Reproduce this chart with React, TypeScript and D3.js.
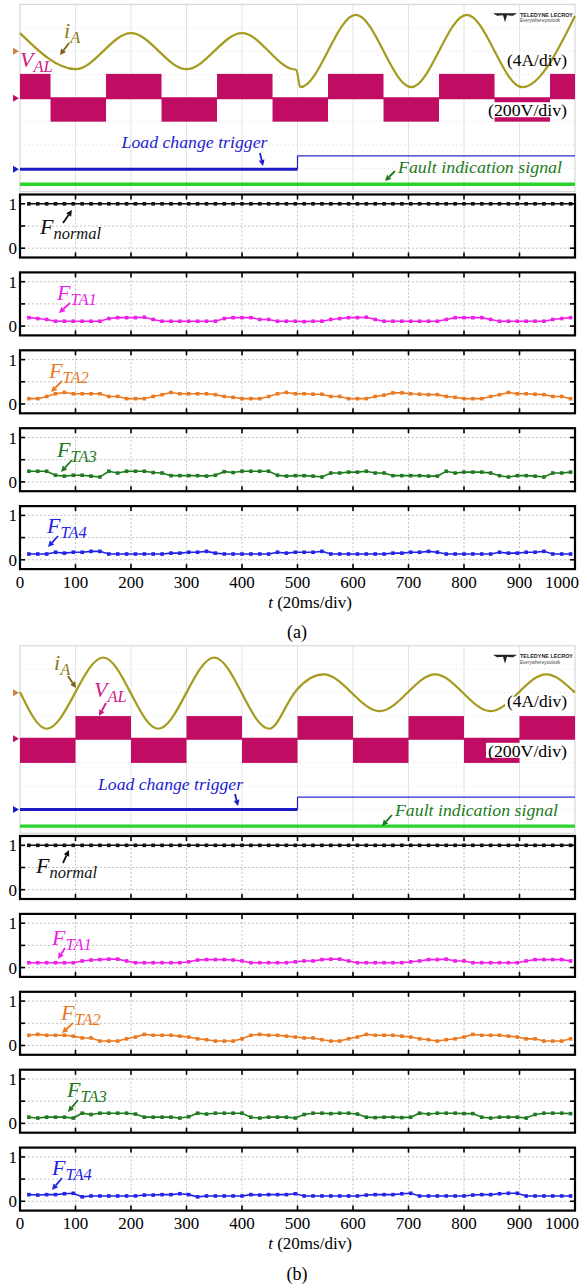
import React from 'react';
import * as d3 from 'd3';

// ---------- data ----------
const T_SAMPLES = [16,32,48,64,80,96,112,128,144,160,176,192,208,224,240,256,272,288,304,320,336,352,368,384,400,416,432,448,464,480,496,512,528,544,560,576,592,608,624,640,656,672,688,704,720,736,752,768,784,800,816,832,848,864,880,896,912,928,944,960,976,992];
const X_TICKS = [0,100,200,300,400,500,600,700,800,900,1000];
const Y_GRID = [0, 0.5, 1];
const Y_TICK_LABELS = [0, 1];

const F_NORMAL = [1,1,1,1,1,1,1,1,1,1,1,1,1,1,1,1,1,1,1,1,1,1,1,1,1,1,1,1,1,1,1,1,1,1,1,1,1,1,1,1,1,1,1,1,1,1,1,1,1,1,1,1,1,1,1,1,1,1,1,1,1,1];

const FTA1_A = [0.19,0.17,0.15,0.11,0.11,0.11,0.11,0.11,0.11,0.17,0.19,0.19,0.19,0.2,0.15,0.11,0.11,0.11,0.11,0.11,0.11,0.11,0.17,0.19,0.19,0.19,0.15,0.15,0.11,0.11,0.11,
  0.1,0.11,0.11,0.15,0.17,0.19,0.19,0.2,0.15,0.11,0.11,0.11,0.11,0.11,0.11,0.11,0.15,0.19,0.19,0.19,0.19,0.15,0.11,0.11,0.11,0.11,0.11,0.11,0.15,0.17,0.19];
const FTA2_A = [0.12,0.12,0.17,0.23,0.26,0.23,0.23,0.23,0.23,0.17,0.17,0.12,0.12,0.12,0.17,0.21,0.26,0.23,0.23,0.23,0.23,0.21,0.17,0.15,0.12,0.12,0.12,0.17,0.23,0.26,0.23,
  0.23,0.22,0.22,0.17,0.17,0.12,0.12,0.12,0.17,0.2,0.25,0.25,0.23,0.22,0.21,0.21,0.17,0.15,0.12,0.12,0.12,0.17,0.21,0.26,0.23,0.23,0.22,0.21,0.17,0.17,0.12];
const FTA3_A = [0.24,0.24,0.24,0.15,0.13,0.15,0.15,0.13,0.11,0.24,0.2,0.24,0.24,0.24,0.21,0.2,0.14,0.14,0.14,0.14,0.13,0.15,0.23,0.21,0.24,0.24,0.24,0.24,0.15,0.13,0.14,
  0.14,0.13,0.11,0.2,0.2,0.22,0.22,0.24,0.2,0.2,0.14,0.14,0.14,0.14,0.13,0.13,0.24,0.2,0.22,0.22,0.22,0.2,0.14,0.11,0.14,0.14,0.13,0.11,0.2,0.2,0.22];
const FTA4_A = [0.13,0.13,0.13,0.17,0.15,0.17,0.17,0.19,0.19,0.13,0.13,0.13,0.13,0.13,0.13,0.13,0.15,0.15,0.17,0.17,0.19,0.15,0.13,0.13,0.13,0.13,0.13,0.13,0.17,0.15,0.17,
  0.17,0.17,0.19,0.13,0.13,0.13,0.13,0.13,0.13,0.13,0.15,0.15,0.17,0.17,0.19,0.17,0.13,0.13,0.13,0.13,0.13,0.13,0.17,0.15,0.15,0.17,0.17,0.19,0.13,0.13,0.13];

const FTA1_B = [0.11,0.11,0.11,0.11,0.11,0.11,0.15,0.17,0.18,0.19,0.19,0.15,0.11,0.11,0.11,0.11,0.11,0.11,0.13,0.17,0.18,0.18,0.18,0.17,0.15,0.11,0.11,0.11,0.11,0.11,0.13,
  0.15,0.15,0.18,0.19,0.19,0.15,0.11,0.11,0.11,0.11,0.11,0.11,0.13,0.15,0.18,0.18,0.19,0.15,0.15,0.11,0.11,0.11,0.11,0.11,0.11,0.15,0.18,0.18,0.18,0.18,0.15];
const FTA2_B = [0.23,0.25,0.23,0.23,0.23,0.21,0.17,0.17,0.1,0.1,0.1,0.15,0.19,0.25,0.23,0.23,0.23,0.21,0.19,0.15,0.13,0.1,0.1,0.1,0.15,0.23,0.25,0.23,0.23,0.21,0.19,
  0.17,0.17,0.13,0.1,0.1,0.15,0.19,0.25,0.23,0.23,0.23,0.21,0.19,0.15,0.13,0.1,0.13,0.15,0.19,0.25,0.23,0.23,0.23,0.21,0.19,0.15,0.15,0.1,0.1,0.1,0.15];
const FTA3_B = [0.14,0.12,0.14,0.14,0.14,0.12,0.23,0.2,0.23,0.23,0.23,0.23,0.21,0.14,0.14,0.14,0.14,0.12,0.15,0.23,0.21,0.23,0.23,0.23,0.23,0.14,0.12,0.14,0.14,0.14,0.12,
  0.2,0.23,0.23,0.22,0.23,0.23,0.21,0.14,0.13,0.14,0.14,0.13,0.14,0.23,0.21,0.23,0.23,0.23,0.22,0.22,0.14,0.12,0.14,0.14,0.14,0.12,0.2,0.23,0.23,0.23,0.22];
const FTA4_B = [0.15,0.14,0.15,0.15,0.17,0.18,0.1,0.12,0.12,0.12,0.12,0.12,0.12,0.14,0.14,0.15,0.15,0.17,0.15,0.1,0.12,0.12,0.12,0.12,0.12,0.15,0.14,0.15,0.15,0.15,0.17,
  0.12,0.12,0.12,0.12,0.12,0.12,0.12,0.14,0.15,0.15,0.15,0.17,0.18,0.12,0.12,0.12,0.12,0.12,0.12,0.14,0.15,0.15,0.17,0.18,0.18,0.12,0.12,0.12,0.12,0.12,0.12];

// oscilloscope traces (values in screen divisions, 0 = bottom, 8 = top)
const IA_A_T = [0,100,200,300,400,490,498,505,605,705,805,905,1000];
const IA_A_V = [6.77,5.23,6.77,5.23,6.77,5.24,5.2,4.46,7.55,4.46,7.55,4.46,7.5];
const IA_B_T = [0,48,150,249,350,449,490,498,547,648,748,848,948,1000];
const IA_B_V = [6.03,4.46,7.5,4.46,7.5,4.46,5.83,6.1,6.78,5.21,6.78,5.21,6.78,6.0];

const VAL_A_EDGES = [0,55,155,255,355,455,555,655,755,855,955,1000];
const VAL_A_STATES = [1,-1,1,-1,1,-1,1,-1,1,-1,1];
const VAL_A_LEVELS = [2.99, 3.99, 5.03];
const VAL_B_EDGES = [0,100,200,300,400,500,600,700,800,900,1000];
const VAL_B_STATES = [-1,1,-1,1,-1,1,-1,1,-1,1];
const VAL_B_LEVELS = [3.0, 4.03, 5.0];

const TRIG_A = [0.96, 1.53];
const TRIG_B = [1.01, 1.54];
const TRIG_TIME = 500;
const FAULT_A = 0.32;
const FAULT_B = 0.3;
const IA_MARK = 6.0;

// ---------- styling ----------
const SERIF = '"Liberation Serif","Times New Roman",serif';
const X0 = 20, X1 = 575;
const xScale = d3.scaleLinear().domain([0, 1000]).range([X0, X1]);

function Arrow({ x1, y1, x2, y2, color }: any) {
  const a = Math.atan2(y2 - y1, x2 - x1);
  const L = 6, w = 3;
  const bx = x2 - L * Math.cos(a), by = y2 - L * Math.sin(a);
  const pts = [[x2, y2], [bx - w * Math.sin(a), by + w * Math.cos(a)], [bx + w * Math.sin(a), by - w * Math.cos(a)]];
  return (
    <g>
      <line x1={x1} y1={y1} x2={bx} y2={by} stroke={color} strokeWidth={1.8} />
      <polygon points={pts.map(p => p.join(',')).join(' ')} fill={color} />
    </g>
  );
}

function SubLabel({ x, y, main, sub, color, size = 22, subSize = 16.5, dy = 5 }: any) {
  return (
    <text x={x} y={y} fill={color} fontFamily={SERIF} fontStyle="italic" fontSize={size}>
      {main}
      <tspan dy={dy} fontSize={subSize}>{sub}</tspan>
    </text>
  );
}

function Panel({ top, values, color }: any) {
  const h = 63;
  const y = d3.scaleLinear().domain([-0.21, 1.21]).range([top + h, top]);
  const line = d3.line<number>().x((_, i) => xScale(T_SAMPLES[i])).y(v => y(v));
  return (
    <g>
      {X_TICKS.slice(1, -1).map(t => (
        <line key={'gv' + t} x1={xScale(t)} x2={xScale(t)} y1={top} y2={top + h} stroke="#b5b5b5" strokeWidth={0.8} strokeDasharray="2 2" />
      ))}
      {Y_GRID.map(v => (
        <line key={'gh' + v} x1={X0} x2={X1} y1={y(v)} y2={y(v)} stroke="#b5b5b5" strokeWidth={0.8} strokeDasharray="2 2" />
      ))}
      <path d={line(values) || ''} fill="none" stroke={color} strokeWidth={1.6} />
      {values.map((v: number, i: number) => (
        <rect key={i} x={xScale(T_SAMPLES[i]) - 1.8} y={y(v) - 1.8} width={3.6} height={3.6} fill={color} />
      ))}
      {X_TICKS.slice(1, -1).map(t => (
        <g key={'t' + t}>
          <line x1={xScale(t)} x2={xScale(t)} y1={top} y2={top + 5} stroke="#000" strokeWidth={1.6} />
          <line x1={xScale(t)} x2={xScale(t)} y1={top + h} y2={top + h - 5} stroke="#000" strokeWidth={1.6} />
        </g>
      ))}
      {Y_GRID.map(v => (
        <g key={'yt' + v}>
          <line x1={X0} x2={X0 + 5} y1={y(v)} y2={y(v)} stroke="#000" strokeWidth={1.6} />
          <line x1={X1} x2={X1 - 5} y1={y(v)} y2={y(v)} stroke="#000" strokeWidth={1.6} />
        </g>
      ))}
      {Y_TICK_LABELS.map(v => (
        <text key={'yl' + v} x={17} y={y(v) + 6} textAnchor="end" fontFamily={SERIF} fontSize={17}>{v}</text>
      ))}
      <rect x={X0} y={top} width={X1 - X0} height={h} fill="none" stroke="#000" strokeWidth={2.2} />
    </g>
  );
}

function Scope({ top, bottom, iaT, iaV, edges, states, levels, trig, fault, bgFourA }: any) {
  const y = d3.scaleLinear().domain([0, 8]).range([bottom, top]);
  const ia = d3.line<number>().x((_, i) => xScale(iaT[i])).y(v => y(v)).curve(d3.curveMonotoneX);
  const divs = [1, 2, 3, 4, 5, 6, 7];
  const [lo, mid, hi] = levels;
  return (
    <g>
      <rect x={X0} y={top} width={X1 - X0} height={bottom - top} fill="#fff" stroke="#cfcfcf" strokeWidth={1} />
      {X_TICKS.slice(1, -1).map(t => (
        <line key={'sv' + t} x1={xScale(t)} x2={xScale(t)} y1={top} y2={bottom} stroke="#dcdcdc" strokeWidth={0.8} />
      ))}
      {divs.map(d => (
        <line key={'sh' + d} x1={X0} x2={X1} y1={y(d)} y2={y(d)} stroke="#d6d6d6" strokeWidth={0.8} strokeDasharray={d === 4 ? undefined : '1 3'} />
      ))}
      {/* V_AL */}
      {states.map((s: number, i: number) => {
        const xa = xScale(edges[i]), xb = xScale(edges[i + 1]);
        const ya = s > 0 ? y(hi) : y(mid), yb = s > 0 ? y(mid) : y(lo);
        return <rect key={'v' + i} x={xa} y={ya} width={xb - xa} height={yb - ya} fill="#c00d63" />;
      })}
      <line x1={X0} x2={X1} y1={y(mid)} y2={y(mid)} stroke="#c00d63" strokeWidth={2} />
      {/* i_A */}
      <path d={ia(iaV) || ''} fill="none" stroke="#a59b1f" strokeWidth={2.2} />
      {/* trigger */}
      <line x1={X0} x2={xScale(TRIG_TIME)} y1={y(trig[0])} y2={y(trig[0])} stroke="#1c1cc4" strokeWidth={3} />
      <line x1={xScale(TRIG_TIME)} x2={xScale(TRIG_TIME)} y1={y(trig[0])} y2={y(trig[1])} stroke="#1c1cc4" strokeWidth={1.2} />
      <line x1={xScale(TRIG_TIME)} x2={X1} y1={y(trig[1])} y2={y(trig[1])} stroke="#2a2ad8" strokeWidth={1.2} />
      {/* fault */}
      <line x1={X0} x2={X1} y1={y(fault)} y2={y(fault)} stroke="#2bd42b" strokeWidth={3.4} />
      {/* markers */}
      <polygon points={`13,${y(IA_MARK) - 3.5} 19,${y(IA_MARK)} 13,${y(IA_MARK) + 3.5}`} fill="#c8824a" />
      <polygon points={`13,${y(mid) - 3.5} 19,${y(mid)} 13,${y(mid) + 3.5}`} fill="#c00d63" />
      <polygon points={`13,${y(trig[0]) - 3.5} 19,${y(trig[0])} 13,${y(trig[0]) + 3.5}`} fill="#1c1cc4" />
      {/* scale labels */}
      {bgFourA && <rect x={505} y={y(6.0) + 4} width={64} height={18} fill="#fff" />}
      <rect x={486} y={y(mid) + 4} width={83} height={15} fill="#fff" />
      {/* logo */}
      <g transform={`translate(493,${top + 6})`}>
        <path d="M0,3 L24,3 L20,5.5 L14,5 L12,12 L10,5 L4,5.5 Z" fill="#222" />
        <text x={27} y={6.5} fontFamily="Liberation Sans, Arial, sans-serif" fontWeight="bold" fontSize={6} fill="#222" textLength={53} lengthAdjust="spacingAndGlyphs">TELEDYNE LECROY</text>
        <text x={27} y={12} fontFamily="Liberation Sans, Arial, sans-serif" fontSize={4.6} fill="#444" textLength={40} lengthAdjust="spacingAndGlyphs">Everywhereyoulook</text>
      </g>
    </g>
  );
}

function Figure({ off, scope, panels, labels, letter }: any) {
  const sTop = 4.3 + off, sBot = 191.7 + off;
  const ys = d3.scaleLinear().domain([0, 8]).range([sBot, sTop]);
  const panelTops = [194.5, 272.4, 350.3, 428.2, 506.1].map(v => v + off);
  return (
    <g>
      <Scope top={sTop} bottom={sBot} {...scope} />
      <text x={537} y={ys(6.0) + 14.5} textAnchor="middle" fontFamily={SERIF} fontSize={17} textLength={60} lengthAdjust="spacingAndGlyphs">(4A/div)</text>
      <text x={527.5} y={ys(scope.levels[1]) + 18} textAnchor="middle" fontFamily={SERIF} fontSize={17} textLength={79} lengthAdjust="spacingAndGlyphs">(200V/div)</text>
      {panels.map((p: any, i: number) => (
        <Panel key={i} top={panelTops[i]} values={p.values} color={p.color} />
      ))}
      {X_TICKS.map((t, i) => (
        <text key={'xl' + t} x={i === X_TICKS.length - 1 ? 562 : xScale(t)} y={587.5 + off} textAnchor="middle" fontFamily={SERIF} fontSize={17}>{t}</text>
      ))}
      <text x={310} y={607.5 + off} textAnchor="middle" fontFamily={SERIF} fontSize={17}>
        <tspan fontStyle="italic">t</tspan> (20ms/div)
      </text>
      <text x={297} y={638 + off} textAnchor="middle" fontFamily={SERIF} fontSize={18}>{letter}</text>
      {labels}
    </g>
  );
}

export default function App() {
  const colors = { normal: '#111', ta1: '#ee1fe6', ta2: '#ea7a22', ta3: '#1f7a1f', ta4: '#2323e8' };
  const labelsA = (
    <g>
      <SubLabel x={64} y={38} main="i" sub="A" color="#8d7a18" />
      <Arrow x1={69} y1={43} x2={60} y2={55} color="#7d5e12" />
      <SubLabel x={20} y={67} main="V" sub="AL" color="#cc1c86" />
      <text x={121.5} y={148.3} fill="#1c1cd0" fontFamily={SERIF} fontStyle="italic" fontSize={17.5} textLength={146} lengthAdjust="spacingAndGlyphs">Load change trigger</text>
      <Arrow x1={260} y1={153} x2={263} y2={166} color="#1c1cd0" />
      <text x={398} y={173} fill="#1d7a1d" fontFamily={SERIF} fontStyle="italic" fontSize={17.5} textLength={164} lengthAdjust="spacingAndGlyphs">Fault indication signal</text>
      <Arrow x1={395} y1={171} x2={385} y2={181} color="#1d7a1d" />
      <SubLabel x={40} y={234} main="F" sub="normal" color="#111" />
      <Arrow x1={63} y1={223} x2={72} y2={210} color="#111" />
      <SubLabel x={57} y={300} main="F" sub="TA1" color={colors.ta1} />
      <Arrow x1={70} y1={303} x2={59} y2={313} color={colors.ta1} />
      <SubLabel x={49} y={378} main="F" sub="TA2" color={colors.ta2} />
      <Arrow x1={62} y1={381} x2={51} y2={392} color={colors.ta2} />
      <SubLabel x={57} y={457} main="F" sub="TA3" color={colors.ta3} />
      <Arrow x1={72} y1={460} x2={61} y2={472} color={colors.ta3} />
      <SubLabel x={47} y={533} main="F" sub="TA4" color={colors.ta4} />
      <Arrow x1={58} y1={536} x2={48} y2={547} color={colors.ta4} />
    </g>
  );
  const labelsB = (
    <g>
      <SubLabel x={54} y={670} main="i" sub="A" color="#8d7a18" />
      <Arrow x1={68} y1={676} x2={76} y2={688} color="#7d5e12" />
      <SubLabel x={94} y={696.7} main="V" sub="AL" color="#cc1c86" />
      <Arrow x1={106} y1={703} x2={99} y2={716} color="#cc1c86" />
      <text x={98} y={790} fill="#1c1cd0" fontFamily={SERIF} fontStyle="italic" fontSize={17.5} textLength={145} lengthAdjust="spacingAndGlyphs">Load change trigger</text>
      <Arrow x1={235} y1={794} x2={238} y2={806} color="#1c1cd0" />
      <text x={395} y={816} fill="#1d7a1d" fontFamily={SERIF} fontStyle="italic" fontSize={17.5} textLength={163} lengthAdjust="spacingAndGlyphs">Fault indication signal</text>
      <Arrow x1={392} y1={815} x2={382} y2={826} color="#1d7a1d" />
      <SubLabel x={36} y={873} main="F" sub="normal" color="#111" />
      <Arrow x1={63} y1={863} x2={69} y2={850} color="#111" />
      <SubLabel x={52} y={945} main="F" sub="TA1" color={colors.ta1} />
      <Arrow x1={65} y1={948} x2={58} y2={959} color={colors.ta1} />
      <SubLabel x={61} y={1020} main="F" sub="TA2" color={colors.ta2} />
      <Arrow x1={73} y1={1023} x2={62} y2={1033} color={colors.ta2} />
      <SubLabel x={67} y={1097} main="F" sub="TA3" color={colors.ta3} />
      <Arrow x1={78} y1={1100} x2={68} y2={1112} color={colors.ta3} />
      <SubLabel x={52} y={1175} main="F" sub="TA4" color={colors.ta4} />
      <Arrow x1={62} y1={1178} x2={52} y2={1190} color={colors.ta4} />
    </g>
  );
  return (
    <svg width={581} height={1286} viewBox="0 0 581 1286" style={{ position: 'absolute', left: 0, top: 0, background: '#fff' }}>
      <rect x={0} y={0} width={581} height={1286} fill="#fff" />
      <Figure
        off={0}
        letter="(a)"
        scope={{ iaT: IA_A_T, iaV: IA_A_V, edges: VAL_A_EDGES, states: VAL_A_STATES, levels: VAL_A_LEVELS, trig: TRIG_A, fault: FAULT_A, bgFourA: false }}
        panels={[
          { values: F_NORMAL, color: colors.normal },
          { values: FTA1_A, color: colors.ta1 },
          { values: FTA2_A, color: colors.ta2 },
          { values: FTA3_A, color: colors.ta3 },
          { values: FTA4_A, color: colors.ta4 },
        ]}
        labels={labelsA}
      />
      <Figure
        off={641.5}
        letter="(b)"
        scope={{ iaT: IA_B_T, iaV: IA_B_V, edges: VAL_B_EDGES, states: VAL_B_STATES, levels: VAL_B_LEVELS, trig: TRIG_B, fault: FAULT_B, bgFourA: true }}
        panels={[
          { values: F_NORMAL, color: colors.normal },
          { values: FTA1_B, color: colors.ta1 },
          { values: FTA2_B, color: colors.ta2 },
          { values: FTA3_B, color: colors.ta3 },
          { values: FTA4_B, color: colors.ta4 },
        ]}
        labels={labelsB}
      />
    </svg>
  );
}
